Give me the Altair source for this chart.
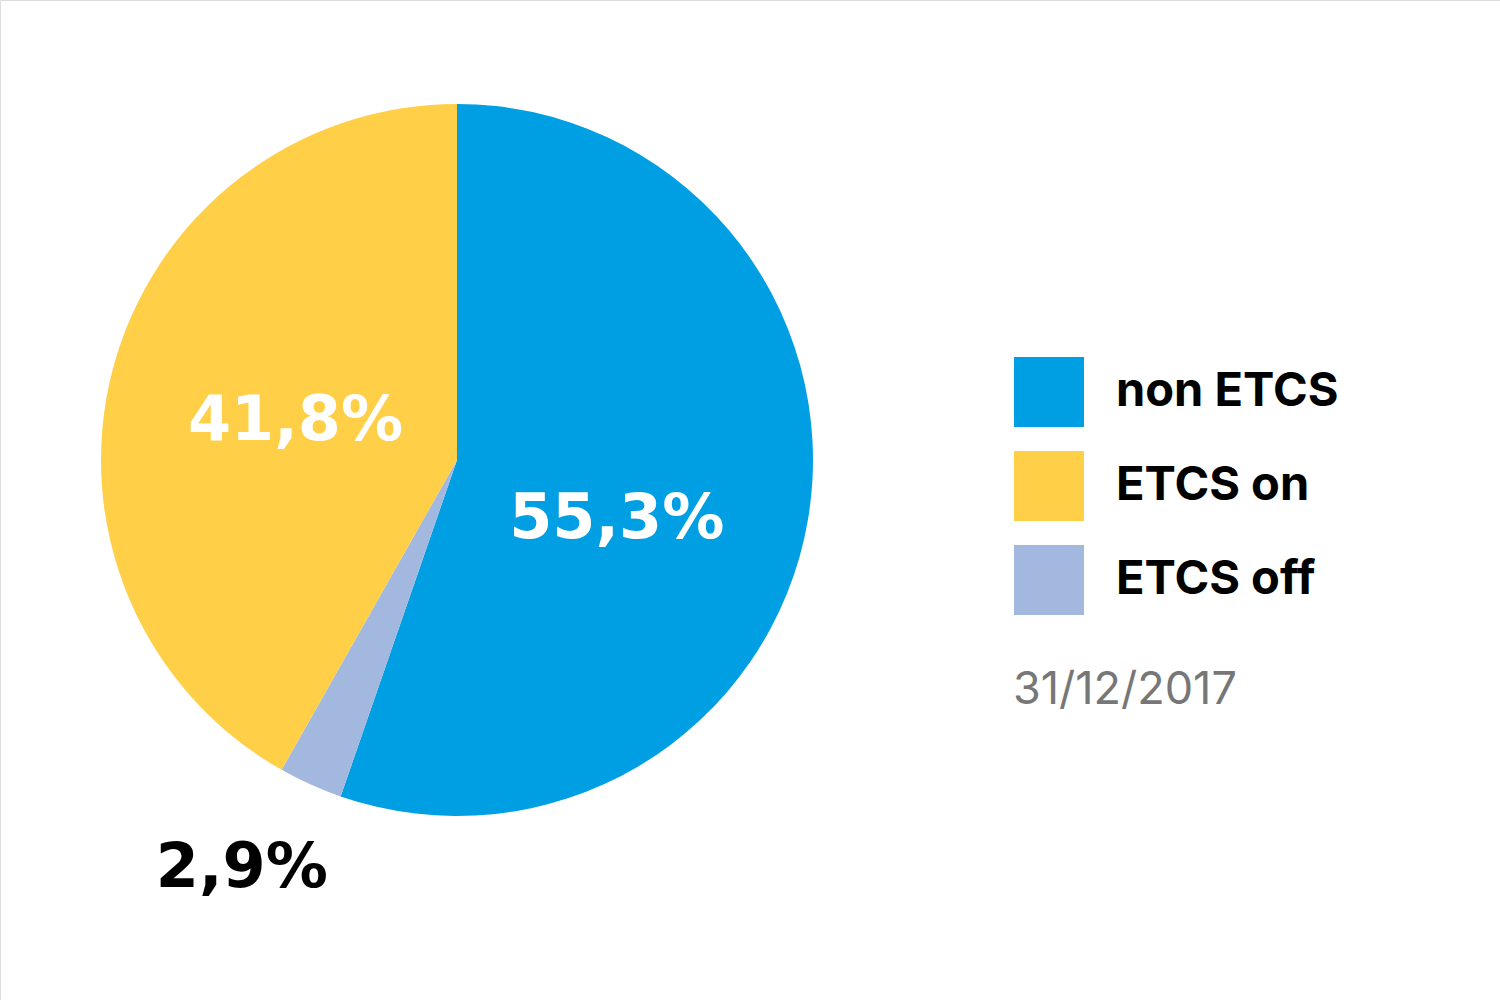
import altair as alt
import pandas as pd

categories = ["non ETCS", "ETCS off", "ETCS on"]
values = [55.3, 2.9, 41.8]
labels = ["55,3%", "2,9%", "41,8%"]
stack_order = [1, 2, 3]
legend_order = ["non ETCS", "ETCS on", "ETCS off"]
colors = ["#009FE3", "#FFCF48", "#A2B8DE"]
date_label = "31/12/2017"

df = pd.DataFrame({"Category": categories, "Value": values, "Label": labels, "Order": stack_order})

CX, CY, R = 457, 460, 356

base = alt.Chart(df).encode(
    theta=alt.Theta("Value:Q", stack=True),
    order=alt.Order("Order:Q"),
)

pie = base.mark_arc(outerRadius=R, stroke=None).encode(
    x=alt.value(CX), y=alt.value(CY),
    color=alt.Color(
        "Category:N",
        scale=alt.Scale(domain=legend_order, range=colors),
        legend=alt.Legend(
            title=None, orient="none", legendX=1014, legendY=357,
            symbolType="square", symbolSize=4900, symbolStrokeWidth=0,
            symbolOpacity=1, rowPadding=24, labelOffset=32, labelLimit=500,
            labelFont="Inter", labelFontSize=47, labelFontWeight="bold",
            labelColor="#000000", padding=0, offset=0,
        ),
    ),
)

def label_layer(cat, radius, color, dx=0, dy=0):
    return base.mark_text(
        radius=radius, font="DejaVu Sans", fontSize=62, fontWeight="bold",
        color=color, align="center", baseline="middle", dx=dx, dy=dy,
    ).encode(
        x=alt.value(CX), y=alt.value(CY),
        text=alt.condition(f"datum.Category == '{cat}'", "Label:N", alt.value("")),
    )

lab_non = label_layer("non ETCS", 165, "#FFFFFF", dx=-3, dy=32)
lab_on = label_layer("ETCS on", 167, "#FFFFFF", dx=0, dy=4)
lab_off = label_layer("ETCS off", 450, "#000000", dx=-30, dy=-2)

date = alt.Chart(pd.DataFrame({"t": [date_label]})).mark_text(
    font="Inter", fontSize=45, color="#777777", align="left", baseline="alphabetic"
).encode(x=alt.value(1013), y=alt.value(704), text="t:N")

chart = alt.layer(pie, lab_non, lab_on, lab_off, date).properties(
    width=1500, height=1000, autosize=alt.AutoSizeParams(type="none"), padding=0
).configure_view(stroke=None).configure(background="#FFFFFF")

chart.save("out.html", embed_options={"renderer": "svg", "actions": False})
